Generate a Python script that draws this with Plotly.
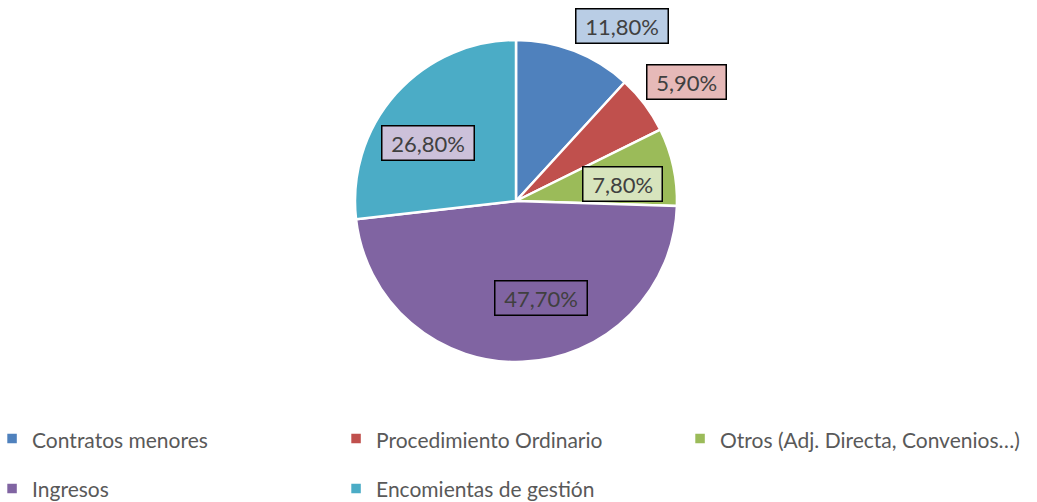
import math
import plotly.graph_objects as go

# ---- data ----
categories = ["Contratos menores", "Procedimiento Ordinario",
              "Otros (Adj. Directa, Convenios…)", "Ingresos", "Encomientas de gestión"]
values = [11.8, 5.9, 7.8, 47.7, 26.8]
value_labels = ["11,80%", "5,90%", "7,80%", "47,70%", "26,80%"]

# ---- styles ----
slice_colors = ["#4F81BD", "#C0504D", "#9BBB59", "#8064A2", "#4BACC6"]
box_colors = ["#B9CDE5", "#E6B9B8", "#D7E4BD", "#8064A2", "#CCC1DA"]
# label placement (Excel "best fit"): radial factor and angle tweak (deg)
label_rfac = [1.27, 1.29, 0.67, 0.62, 0.655]
label_dang = [10, 2, 3, -12, -8.5]

W, H = 1037, 502
ML, MR, MT, MB = 0, 5, 40, 140
pw, ph = W - ML - MR, H - MT - MB
R = min(pw, ph) / 2

legend_text_size = 21
legend_labels = [
    f'<span style="font-size:{legend_text_size}px;baseline-shift:5px">{c}</span>'
    for c in categories
]

fig = go.Figure(go.Pie(
    labels=legend_labels, values=values, sort=False, direction="clockwise",
    rotation=0, marker=dict(colors=slice_colors, line=dict(color="white", width=2.5)),
    textinfo="none", customdata=categories,
    hovertemplate="%{customdata}: %{percent}<extra></extra>",
))

total = sum(values)
cum = 0
annotations = []
for i, v in enumerate(values):
    mid = (cum + v / 2) / total * 360 + label_dang[i]
    cum += v
    a = math.radians(mid)
    dx = label_rfac[i] * R * math.sin(a)
    dy = label_rfac[i] * R * math.cos(a)
    annotations.append(dict(
        x=0.5 + dx / pw, y=0.5 + dy / ph, xref="paper", yref="paper",
        xanchor="center", yanchor="middle",
        text="\u00a0" + value_labels[i] + "\u00a0", showarrow=False,
        font=dict(family="Lato", size=22, color="#404040"),
        bgcolor=box_colors[i], bordercolor="black", borderwidth=1.5, borderpad=3,
    ))

fig.update_layout(
    width=W, height=H, margin=dict(l=ML, r=MR, t=MT, b=MB, autoexpand=False),
    paper_bgcolor="white", plot_bgcolor="white",
    annotations=annotations,
    showlegend=True,
    legend=dict(orientation="h", x=-0.0077, xanchor="left", y=-0.145, yanchor="top",
                entrywidth=299, entrywidthmode="pixels",
                font=dict(family="Lato", size=36, color="#595959")),
)
fig.write_html("out.html", config={"displayModeBar": False},
               post_script="document.body.style.margin='0';")
